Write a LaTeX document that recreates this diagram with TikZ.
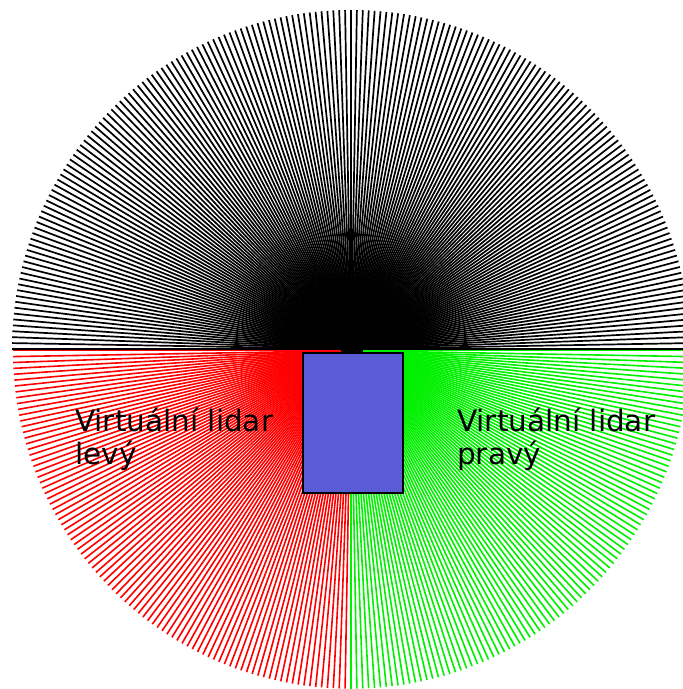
\documentclass[tikz,border=0pt]{standalone}
\usepackage{fontspec}
\setmainfont{DejaVu Sans}
\definecolor{rayred}{RGB}{255,0,0}
\definecolor{raygreen}{RGB}{0,240,0}
\definecolor{carblue}{RGB}{91,91,214}
\begin{document}
\begin{tikzpicture}[x=1pt,y=1pt,
  blackray/.style={draw=black,line width=1.7pt},
  redray/.style={draw=rayred,line width=1.6pt},
  greenray/.style={draw=raygreen,line width=1.6pt},
  carbox/.style={draw=black,line width=1.8pt,fill=carblue,minimum width=100pt,minimum height=140pt,inner sep=0pt,anchor=north west},
  lbl/.style={font=\fontsize{29.5}{33}\selectfont,inner sep=0pt,anchor=base west,text=black}]
\useasboundingbox (0,0) rectangle (683,689);
\clip (0,0) rectangle (683,689);
\coordinate (cb) at (351,340);
\coordinate (cl) at (351,338.3);
\foreach \a in {180,...,270} \draw[redray] (cl) ++(\a:10) -- ++(\a:328);
\foreach \a in {270,...,360} \draw[greenray] (cl) ++(\a:12) -- ++(\a:326);
\fill[black] (341,336) rectangle (363,344);
\foreach \a in {0,...,180} \draw[blackray] (cb) -- ++(\a:339);
\node[carbox] (car) at (302,337) {};
\node[lbl] (l1) at (75,257) {Virtuální lidar};
\node[lbl] (l2) at (75,224) {levý};
\node[lbl] (r1) at (457,257) {Virtuální lidar};
\node[lbl] (r2) at (457,224) {pravý};
\end{tikzpicture}
\end{document}
